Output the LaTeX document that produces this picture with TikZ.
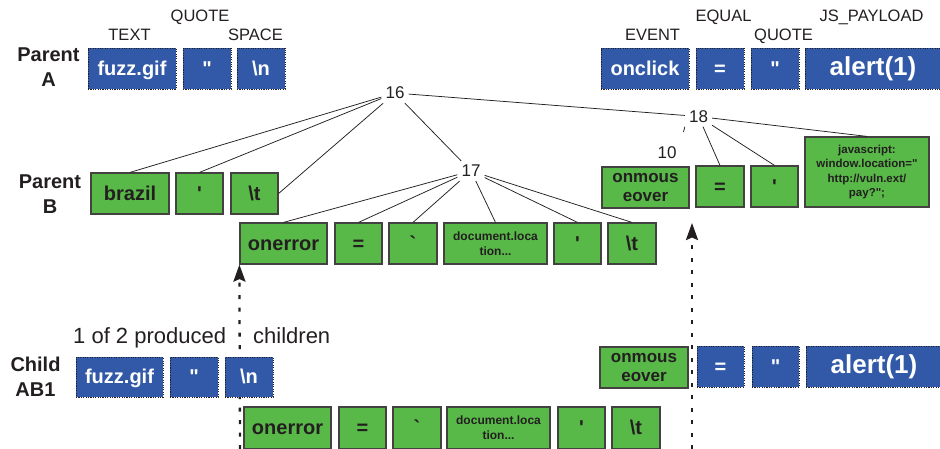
\documentclass[tikz,border=0pt]{standalone}
\usepackage{fontspec}
\setmainfont{Liberation Sans}
\usetikzlibrary{arrows.meta,backgrounds}
\definecolor{bblue}{RGB}{49,89,168}
\definecolor{bgreen}{RGB}{88,185,72}
\definecolor{ink}{RGB}{35,31,32}
\newcommand{\fsz}[2]{\fontsize{#1}{#2}\selectfont}
\begin{document}
\begin{tikzpicture}[x=1pt,y=-1pt,
  box/.style={minimum height=41pt, inner sep=0pt, font=\bfseries\fsz{20}{22}},
  bb/.style={box, fill=bblue, draw=ink, line width=1pt, dash pattern=on 1.1pt off 1.3pt, text=white},
  gb/.style={box, fill=bgreen, draw=ink!85, line width=1.2pt, text=ink},
  one/.style={text height=14pt, text depth=1pt},
  lab/.style={font=\fsz{16.5}{18}, text=ink, inner sep=0pt, anchor=base},
  rowlab/.style={font=\bfseries\fsz{20}{24.3}, text=ink, align=center, inner sep=0pt},
  num/.style={font=\fsz{17}{17}, text=ink, inner sep=4pt},
  ed/.style={draw=ink, line width=0.75pt},
  darr/.style={draw=ink, line width=2.3pt, dash pattern=on 4pt off 8.5pt, -{Stealth[length=17pt,width=12pt,inset=2.5pt]}},
  big/.style={font=\bfseries\fsz{26}{28}},
  twoline/.style={align=center, font=\bfseries\fsz{17}{19.4}},
  docl/.style={align=center, font=\bfseries\fsz{12}{15}},
  jsl/.style={align=center, font=\bfseries\fsz{11.5}{14.5}}
]
\useasboundingbox (0,0) rectangle (940,448);

% row labels
\node[rowlab] (rA) at (48.5,67) {Parent\\A};
\node[rowlab] (rB) at (50,194) {Parent\\B};
\node[rowlab, font=\bfseries\fsz{20}{25}] (rC) at (35.5,377) {Child\\AB1};

% field labels
\node[lab] (l1) at (129.5,40) {TEXT};
\node[lab] (l2) at (200,21.5) {QUOTE};
\node[lab] (l3) at (255.5,40) {SPACE};
\node[lab] (l4) at (652.5,40.5) {EVENT};
\node[lab] (l5) at (723.5,21.5) {EQUAL};
\node[lab] (l6) at (783.5,40.5) {QUOTE};
\node[lab] (l7) at (871.5,21.5) {JS\_PAYLOAD};

% Parent A
\node[bb,one,minimum width=88] (pa1) at (132,68.5) {fuzz.gif};
\node[bb,one,minimum width=48] (pa2) at (207,68.5) {\textquotedbl};
\node[bb,one,minimum width=48] (pa3) at (261,68.5) {\textbackslash n};
\node[bb,one,minimum width=88] (pa4) at (645,68.5) {onclick};
\node[bb,one,minimum width=48] (pa5) at (720,68.5) {=};
\node[bb,one,minimum width=48] (pa6) at (775,68.5) {\textquotedbl};
\node[bb,one,big,minimum width=136] (pa7) at (873,68.5) {alert(1)};

% Parent B
\node[gb,one,minimum width=78] (pb1) at (130,193.5) {brazil};
\node[gb,one,minimum width=47] (pb2) at (199.5,193.5) {\textquotesingle};
\node[gb,one,minimum width=47] (pb3) at (254.5,193.5) {\textbackslash t};

\node[gb,one,minimum width=87] (pc1) at (283.5,243.5) {onerror};
\node[gb,one,minimum width=47] (pc2) at (358.5,243.5) {=};
\node[gb,one,minimum width=48] (pc3) at (413,243.5) {\textasciigrave};
\node[gb,docl,minimum width=103] (pc4) at (495.5,243.5) {document.loca\\tion...};
\node[gb,one,minimum width=47] (pc5) at (577.5,243.5) {\textquotesingle};
\node[gb,one,minimum width=48] (pc6) at (632,243.5) {\textbackslash t};

\node[gb,twoline,minimum width=87] (pd1) at (645.5,187.5) {onmous\\eover};
\node[gb,one,minimum width=48] (pd2) at (720,186.5) {=};
\node[gb,one,minimum width=47] (pd3) at (774.5,186.5) {\textquotesingle};
\node[gb,jsl,minimum width=124,minimum height=70] (pd4) at (867,172) {javascript:\\window.location=\textquotedbl\\http://vuln.ext/\\pay?\textquotedbl;};

% tree numbers
\node[num] (n16) at (395,93) {16};
\node[num] (n17) at (471,171) {17};
\node[num] (n18) at (698.5,116.5) {18};
\node[num] (n10) at (667,153) {10};

% tree edges
\draw[ed] (n16) -- (pb1.north);
\draw[ed] (n16) -- (pb2.north);
\draw[ed] (n16) -- (pb3.east);
\draw[ed] (n16) -- (n17);
\draw[ed] (n16) -- (n18);
\draw[ed] (n17) -- (pc1.north);
\draw[ed] (n17) -- (pc2.north);
\draw[ed] (n17) -- (pc3.north);
\draw[ed] (n17) -- (pc4.north);
\draw[ed] (n17) -- (pc5.north);
\draw[ed] (n17) -- (pc6.north);
\draw[ed, shorten >=11pt] (n18.south west) -- (n10.north east);
\draw[ed] (n18) -- (pd2.north);
\draw[ed] (n18) -- (pd3.north);
\draw[ed] (n18) -- (pd4.north);

% Child AB1
\node[font=\fsz{22}{24}, text=ink, anchor=base west, inner sep=0pt] (t1) at (73,343.3) {1 of 2 produced};
\node[font=\fsz{22}{24}, text=ink, anchor=base west, inner sep=0pt] (t2) at (253,343.3) {children};

\node[bb,one,minimum width=87,minimum height=40] (ca1) at (119.5,377) {fuzz.gif};
\node[bb,one,minimum width=48,minimum height=40] (ca2) at (194,377) {\textquotedbl};
\node[bb,one,minimum width=48,minimum height=40] (ca3) at (249,377) {\textbackslash n};

\node[gb,one,minimum width=87,minimum height=42] (cb1) at (287.5,428) {onerror};
\node[gb,one,minimum width=47,minimum height=42] (cb2) at (362.5,428) {=};
\node[gb,one,minimum width=48,minimum height=42] (cb3) at (417,428) {\textasciigrave};
\node[gb,docl,minimum width=103,minimum height=42] (cb4) at (498.5,428) {document.loca\\tion...};
\node[gb,one,minimum width=47,minimum height=42] (cb5) at (581.5,428) {\textquotesingle};
\node[gb,one,minimum width=48,minimum height=42] (cb6) at (636,428) {\textbackslash t};

\node[gb,twoline,minimum width=88] (cc1) at (644,367.5) {onmous\\eover};
\node[bb,one,minimum width=47] (cc2) at (720.5,366.5) {=};
\node[bb,one,minimum width=47] (cc3) at (775.5,366.5) {\textquotedbl};
\node[bb,one,big,minimum width=136] (cc4) at (874,366.5) {alert(1)};

% dotted arrows
\begin{scope}[on background layer]
\coordinate (la) at (240,449);
\draw[darr] (la) -- (pc1.south west);
\coordinate (ra) at (692,449);
\coordinate (rt) at (692,223);
\draw[darr] (ra) -- (rt);
\end{scope}
\end{tikzpicture}
\end{document}
